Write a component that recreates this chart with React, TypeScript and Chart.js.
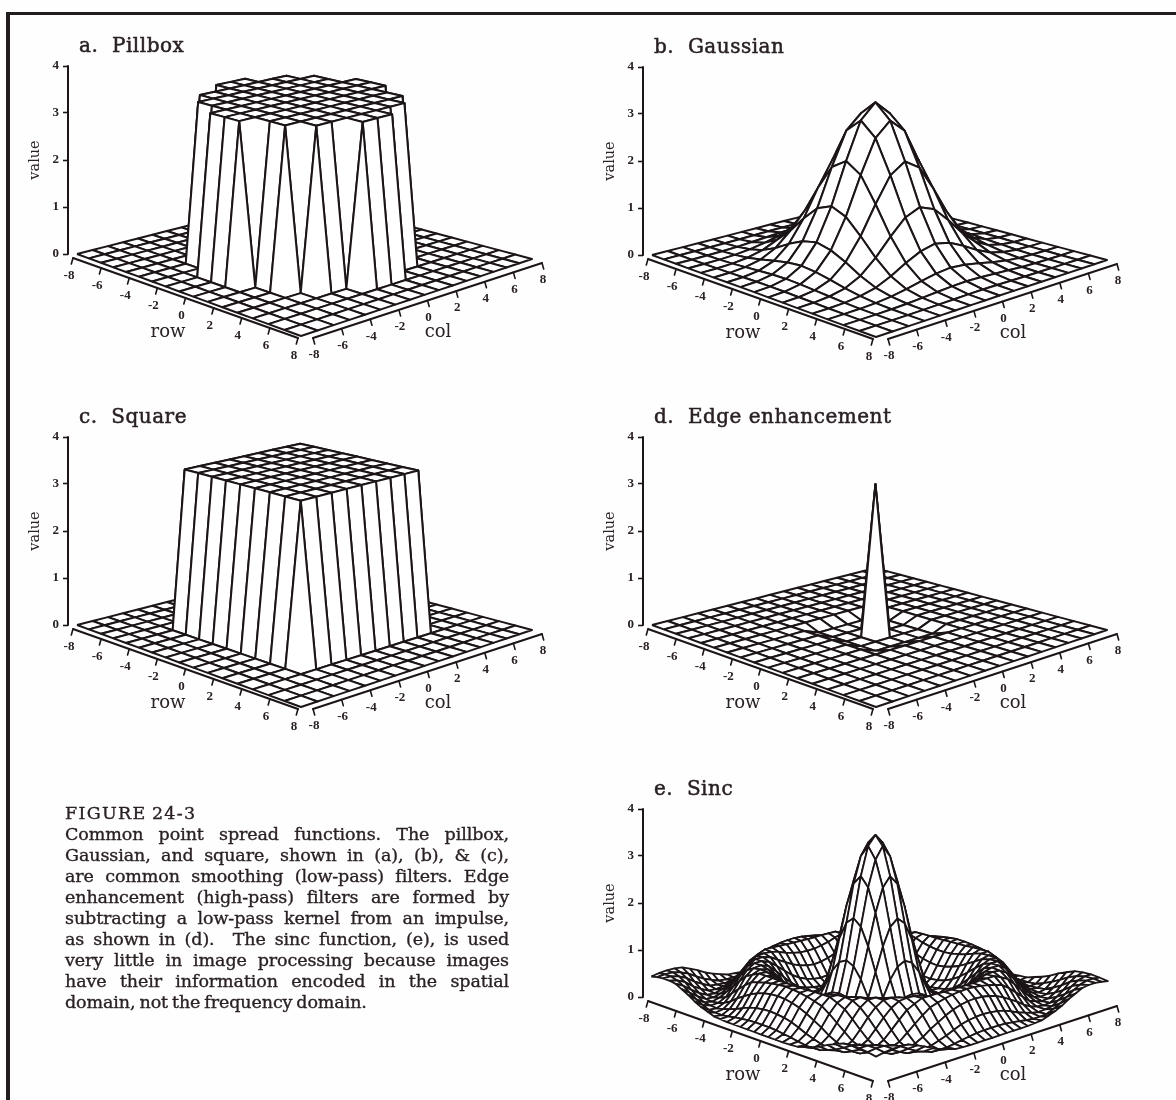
import React, { useEffect, useRef } from "react";
import { Chart, registerables } from "chart.js";

Chart.register(...registerables);

// ---- axis values ----
const gridAxis = [-8, -7, -6, -5, -4, -3, -2, -1, 0, 1, 2, 3, 4, 5, 6, 7, 8];
const sincAxis = [-8, -7.5, -7, -6.5, -6, -5.5, -5, -4.5, -4, -3.5, -3, -2.5, -2, -1.5, -1, -0.5, 0, 0.5, 1, 1.5, 2, 2.5, 3, 3.5, 4, 4.5, 5, 5.5, 6, 6.5, 7, 7.5, 8];
const floorTicks = [-8, -6, -4, -2, 0, 2, 4, 6, 8];
const valueTicks = [0, 1, 2, 3, 4];

// ---- surface values, one quadrant each: index = |row| / step, |col| / step ----
const H = 3.35;
const pillboxValues = [
  [H, H, H, H, H, H, 0, 0, 0],
  [H, H, H, H, H, H, 0, 0, 0],
  [H, H, H, H, H, 0, 0, 0, 0],
  [H, H, H, H, H, 0, 0, 0, 0],
  [H, H, H, H, 0, 0, 0, 0, 0],
  [H, H, 0, 0, 0, 0, 0, 0, 0],
  [0, 0, 0, 0, 0, 0, 0, 0, 0],
  [0, 0, 0, 0, 0, 0, 0, 0, 0],
  [0, 0, 0, 0, 0, 0, 0, 0, 0],
];
const gaussianValues = [
  [3.3, 2.99, 2.21, 1.34, 0.67, 0.27, 0.09, 0.025, 0.006],
  [2.99, 2.7, 2.0, 1.21, 0.6, 0.24, 0.08, 0.022, 0.005],
  [2.21, 2.0, 1.48, 0.9, 0.45, 0.18, 0.06, 0.016, 0.004],
  [1.34, 1.21, 0.9, 0.55, 0.27, 0.11, 0.04, 0.01, 0.002],
  [0.67, 0.6, 0.45, 0.27, 0.13, 0.055, 0.018, 0.005, 0.001],
  [0.27, 0.24, 0.18, 0.11, 0.055, 0.022, 0.007, 0.002, 0],
  [0.09, 0.08, 0.06, 0.04, 0.018, 0.007, 0.002, 0, 0],
  [0.025, 0.022, 0.016, 0.01, 0.005, 0.002, 0, 0, 0],
  [0.006, 0.005, 0.004, 0.002, 0.001, 0, 0, 0, 0],
];
const squareValues = [
  [H, H, H, H, H, 0, 0, 0, 0],
  [H, H, H, H, H, 0, 0, 0, 0],
  [H, H, H, H, H, 0, 0, 0, 0],
  [H, H, H, H, H, 0, 0, 0, 0],
  [H, H, H, H, H, 0, 0, 0, 0],
  [0, 0, 0, 0, 0, 0, 0, 0, 0],
  [0, 0, 0, 0, 0, 0, 0, 0, 0],
  [0, 0, 0, 0, 0, 0, 0, 0, 0],
  [0, 0, 0, 0, 0, 0, 0, 0, 0],
];
const edgeValues = [
  [3.05, -0.12, -0.12, 0, 0, 0, 0, 0, 0],
  [-0.12, -0.12, -0.12, 0, 0, 0, 0, 0, 0],
  [-0.12, -0.12, -0.12, 0, 0, 0, 0, 0, 0],
  [0, 0, 0, 0, 0, 0, 0, 0, 0],
  [0, 0, 0, 0, 0, 0, 0, 0, 0],
  [0, 0, 0, 0, 0, 0, 0, 0, 0],
  [0, 0, 0, 0, 0, 0, 0, 0, 0],
  [0, 0, 0, 0, 0, 0, 0, 0, 0],
  [0, 0, 0, 0, 0, 0, 0, 0, 0],
];
const sincValues = [
  [3.5, 3.3, 2.7, 1.85, 1.0, 0.35, 0.05, 0, 0.1, 0.35, 0.6, 0.78, 0.8, 0.65, 0.38, 0.15, 0.05],
  [3.3, 3.05, 2.5, 1.71, 0.92, 0.32, 0.05, 0.01, 0.12, 0.37, 0.61, 0.78, 0.79, 0.64, 0.37, 0.15, 0.05],
  [2.7, 2.5, 2.0, 1.34, 0.69, 0.23, 0.03, 0.03, 0.16, 0.41, 0.64, 0.78, 0.77, 0.61, 0.35, 0.14, 0.05],
  [1.85, 1.71, 1.34, 0.84, 0.35, 0.1, 0.01, 0.06, 0.23, 0.47, 0.68, 0.79, 0.74, 0.56, 0.31, 0.12, 0.05],
  [1.0, 0.92, 0.69, 0.35, 0.15, 0.03, 0.02, 0.12, 0.33, 0.56, 0.74, 0.79, 0.7, 0.49, 0.25, 0.1, 0.05],
  [0.35, 0.32, 0.23, 0.1, 0.03, 0.01, 0.08, 0.25, 0.46, 0.65, 0.78, 0.79, 0.65, 0.4, 0.18, 0.07, 0.06],
  [0.05, 0.05, 0.03, 0.01, 0.02, 0.08, 0.22, 0.41, 0.6, 0.75, 0.79, 0.72, 0.54, 0.31, 0.13, 0.05, 0.07],
  [0, 0.01, 0.03, 0.06, 0.12, 0.25, 0.41, 0.58, 0.73, 0.79, 0.77, 0.64, 0.41, 0.2, 0.08, 0.05, 0.12],
  [0.1, 0.12, 0.16, 0.23, 0.33, 0.46, 0.6, 0.73, 0.79, 0.79, 0.68, 0.49, 0.28, 0.12, 0.05, 0.06, 0.17],
  [0.35, 0.37, 0.41, 0.47, 0.56, 0.65, 0.75, 0.79, 0.79, 0.69, 0.53, 0.33, 0.15, 0.07, 0.06, 0.12, 0.24],
  [0.6, 0.61, 0.64, 0.68, 0.74, 0.78, 0.79, 0.77, 0.68, 0.53, 0.35, 0.18, 0.09, 0.05, 0.08, 0.19, 0.33],
  [0.78, 0.78, 0.78, 0.79, 0.79, 0.79, 0.72, 0.64, 0.49, 0.33, 0.18, 0.09, 0.05, 0.06, 0.16, 0.28, 0.4],
  [0.8, 0.79, 0.77, 0.74, 0.7, 0.65, 0.54, 0.41, 0.28, 0.15, 0.09, 0.05, 0.06, 0.14, 0.25, 0.38, 0.47],
  [0.65, 0.64, 0.61, 0.56, 0.49, 0.4, 0.31, 0.2, 0.12, 0.07, 0.05, 0.06, 0.14, 0.24, 0.37, 0.45, 0.49],
  [0.38, 0.37, 0.35, 0.31, 0.25, 0.18, 0.13, 0.08, 0.05, 0.06, 0.08, 0.16, 0.25, 0.37, 0.45, 0.49, 0.49],
  [0.15, 0.15, 0.14, 0.12, 0.1, 0.07, 0.05, 0.05, 0.06, 0.12, 0.19, 0.28, 0.38, 0.45, 0.49, 0.49, 0.47],
  [0.05, 0.05, 0.05, 0.05, 0.05, 0.06, 0.07, 0.12, 0.17, 0.24, 0.33, 0.4, 0.47, 0.49, 0.49, 0.47, 0.44],
];

const captionLines = [
  "Common point spread functions. The pillbox,",
  "Gaussian, and square, shown in (a), (b), & (c),",
  "are common smoothing (low-pass) filters. Edge",
  "enhancement (high-pass) filters are formed by",
  "subtracting a low-pass kernel from an impulse,",
  "as shown in (d).  The sinc function, (e), is used",
  "very little in image processing because images",
  "have their information encoded in the spatial",
  "domain, not the frequency domain.",
];

const panels = [
  { title: "a.  Pillbox", dx: 0, dy: 0, axis: gridAxis, table: pillboxValues, step: 1, lw: 2 },
  { title: "b.  Gaussian", dx: 575, dy: 1, axis: gridAxis, table: gaussianValues, step: 1, lw: 2 },
  { title: "c.  Square", dx: 0, dy: 371, axis: gridAxis, table: squareValues, step: 1, lw: 2 },
  { title: "d.  Edge enhancement", dx: 575, dy: 371, axis: gridAxis, table: edgeValues, step: 1, lw: 2 },
  { title: "e.  Sinc", dx: 575, dy: 743, axis: sincAxis, table: sincValues, step: 0.5, lw: 1.8 },
];

// ---- view: how row/col/value become the chart's x (page-like units) and y (value units) ----
const INK = "#1c1518";
const UNIT = 47;
const Y0 = 254;
const CANVAS_LEFT = 18;
const CANVAS_TOP = -52;
const CANVAS_W = 540;
const CANVAS_H = 424;
const AXIS_W = 50;
const X_MIN = CANVAS_LEFT + AXIS_W;
const X_MAX = CANVAS_LEFT + CANVAS_W;
const corners = { L: [77, 254], F: [301, 336], R: [532, 259], B: [300, 197] };

const view = (() => {
  const [x0, y0] = corners.L, [x1, y1] = corners.F, [x2, y2] = corners.R, [x3, y3] = corners.B;
  const dx1 = x1 - x2, dx2 = x3 - x2, sx = x0 - x1 + x2 - x3;
  const dy1 = y1 - y2, dy2 = y3 - y2, sy = y0 - y1 + y2 - y3;
  const den = dx1 * dy2 - dx2 * dy1;
  const g = (sx * dy2 - dx2 * sy) / den;
  const h = (dx1 * sy - sx * dy1) / den;
  return {
    a: x1 - x0 + g * x1, b: x3 - x0 + h * x3, c: x0,
    d: y1 - y0 + g * y1, e: y3 - y0 + h * y3, f: y0, g, h,
  };
})();
const den0 = 1 + (view.g + view.h) / 2;

function project(r: number, c: number, z: number) {
  const u = (r + 8) / 16, v = (c + 8) / 16;
  const w = view.g * u + view.h * v + 1;
  let X = (view.a * u + view.b * v + view.c) / w;
  const Y = (view.d * u + view.e * v + view.f) / w;
  X += (X - 300) * 0.008 * z;
  const lift = z * UNIT * Math.sqrt(den0 / w);
  return { x: X, y: (Y0 - Y + lift) / UNIT };
}

const rowAxisPx = (t: number) => [73 + 225 * t, 258 + 80 * t];
const colAxisPx = (t: number) => [313 + 229 * t, 338 - 75 * t];
const pxPoint = (x: number, y: number) => ({ x, y: (Y0 - y) / UNIT });

function inkLine(data: { x: number; y: number }[], width: number) {
  return {
    data, showLine: true, fill: false, borderColor: INK, borderWidth: width,
    pointRadius: 0, tension: 0, clip: false, borderCapStyle: "round",
  };
}

function buildDatasets(p: (typeof panels)[number]) {
  const out: any[] = [];
  out.push(inkLine([{ x: X_MIN, y: 0 }, { x: X_MIN, y: 4 }], 2));
  out.push(inkLine([0, 1].map((t) => { const [x, y] = rowAxisPx(t); return pxPoint(x, y); }), 2));
  out.push(inkLine([0, 1].map((t) => { const [x, y] = colAxisPx(t); return pxPoint(x, y); }), 2));
  for (const t of floorTicks) {
    const [rx, ry] = rowAxisPx((t + 8) / 16);
    out.push(inkLine([pxPoint(rx, ry), pxPoint(rx - 1.7, ry + 6)], 1.6));
    const [cx, cy] = colAxisPx((t + 8) / 16);
    out.push(inkLine([pxPoint(cx, cy), pxPoint(cx + 1.7, cy + 6)], 1.6));
  }
  const val = (r: number, c: number) =>
    p.table[Math.round(Math.abs(r) / p.step)][Math.round(Math.abs(c) / p.step)];
  const n = p.axis.length;
  // The first dataset is painted last, so the front of the surface comes first.
  for (let i = n - 2; i >= 0; i--) {
    for (let j = 0; j < n - 1; j++) {
      const r0 = p.axis[i], r1 = p.axis[i + 1], c0 = p.axis[j], c1 = p.axis[j + 1];
      const pts = [
        project(r0, c0, val(r0, c0)),
        project(r1, c0, val(r1, c0)),
        project(r1, c1, val(r1, c1)),
        project(r0, c1, val(r0, c1)),
        project(r0, c0, val(r0, c0)),
      ];
      out.push({
        data: pts, showLine: true, fill: "shape", backgroundColor: "#ffffff",
        borderColor: INK, borderWidth: p.lw, pointRadius: 0, tension: 0,
        borderJoinStyle: "round", clip: false,
      });
    }
  }
  return out;
}

const panelText = {
  id: "panelText",
  afterDraw(chart: any, _a: any, opts: any) {
    const { ctx, scales } = chart;
    const px = (x: number) => scales.x.getPixelForValue(x);
    const py = (y: number) => scales.y.getPixelForValue((Y0 - y) / UNIT);
    ctx.save();
    ctx.fillStyle = "#2a2125";
    ctx.strokeStyle = "#2a2125";
    ctx.lineWidth = 0.5;
    ctx.textBaseline = "alphabetic";
    ctx.textAlign = "left";
    ctx.font = "20px 'DejaVu Serif'";
    ctx.letterSpacing = "0.5px";
    ctx.fillText(opts.title, px(79), py(52));
    ctx.strokeText(opts.title, px(79), py(52));
    ctx.letterSpacing = "0px";
    ctx.font = "18px 'DejaVu Serif'";
    ctx.textAlign = "center";
    ctx.fillText("row", px(168), py(337));
    ctx.fillText("col", px(438), py(337));
    ctx.font = "bold 13px 'Liberation Serif'";
    ctx.textBaseline = "middle";
    for (const t of floorTicks) {
      const [rx, ry] = rowAxisPx((t + 8) / 16);
      ctx.fillText(String(t), px(rx - 4), py(ry + 18));
      const [cx, cy] = colAxisPx((t + 8) / 16);
      ctx.fillText(String(t), px(cx + 1), py(cy + 17));
    }
    ctx.restore();
  },
};

function App() {
  const refs = useRef<(HTMLCanvasElement | null)[]>([]);
  useEffect(() => {
    const charts = panels.map((p, i) =>
      new Chart(refs.current[i] as HTMLCanvasElement, {
        type: "scatter",
        data: { datasets: buildDatasets(p) },
        plugins: [panelText],
        options: {
          animation: false,
          responsive: false,
          events: [],
          layout: { padding: 0, autoPadding: false },
          plugins: {
            legend: { display: false },
            tooltip: { enabled: false },
            panelText: { title: p.title },
          },
          scales: {
            x: { type: "linear", display: false, min: X_MIN, max: X_MAX },
            y: {
              type: "linear",
              min: (Y0 - (CANVAS_TOP + CANVAS_H)) / UNIT,
              max: (Y0 - CANVAS_TOP) / UNIT,
              afterFit: (s: any) => {
                s.width = AXIS_W;
                s.paddingTop = 0;
                s.paddingBottom = 0;
              },
              afterBuildTicks: (s: any) => { s.ticks = valueTicks.map((value) => ({ value })); },
              border: { display: false },
              grid: {
                display: true, drawOnChartArea: false, drawTicks: true,
                tickLength: 5, tickWidth: 1.6, tickColor: INK,
              },
              ticks: {
                autoSkip: false, padding: 4, color: "#2a2125",
                font: { family: "'Liberation Serif'", size: 13, weight: "bold" },
                callback: (v: any) => String(v),
              },
              title: {
                display: true, text: "value", color: "#2a2125",
                font: { family: "'DejaVu Serif'", size: 14.5 },
                padding: { top: 9, bottom: 0 },
              },
            },
          },
        } as any,
      } as any)
    );
    return () => charts.forEach((c) => c.destroy());
  }, []);

  return (
    <div style={{ position: "absolute", left: 0, top: 0, width: 1176, height: 1100, overflow: "hidden", background: "#fefefe" }}>
      <div style={{ position: "absolute", left: 6, top: 12, width: 1176, height: 1200, borderTop: "3px solid #221c1e", borderLeft: "4px solid #221c1e", boxSizing: "border-box" }} />
      {panels.map((p, i) => (
        <canvas
          key={p.title}
          ref={(el) => { refs.current[i] = el; }}
          width={CANVAS_W}
          height={CANVAS_H}
          style={{ position: "absolute", left: CANVAS_LEFT + p.dx, top: CANVAS_TOP + p.dy, filter: "blur(0.55px)" }}
        />
      ))}
      <div style={{ position: "absolute", left: 65, top: 803, width: 444, fontFamily: "'DejaVu Serif'", fontSize: 17.5, lineHeight: "21px", letterSpacing: "-0.1px", wordSpacing: "-1.5px", color: "#2a2125", WebkitTextStroke: "0.35px #2a2125", filter: "blur(0.3px)" }}>
        <div style={{ letterSpacing: "1.3px" }}>FIGURE 24-3</div>
        {captionLines.map((line, i) => (
          <div key={i} style={{ whiteSpace: "pre-wrap", textAlign: i < captionLines.length - 1 ? "justify" : "left", textAlignLast: i < captionLines.length - 1 ? "justify" : "left" }}>{line}</div>
        ))}
      </div>
    </div>
  );
}

export default App;
